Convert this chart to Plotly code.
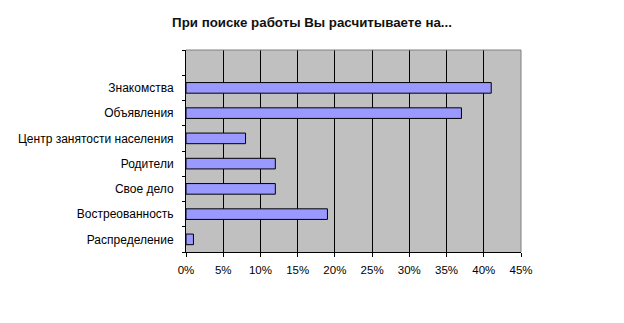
import plotly.graph_objects as go

categories = ["Распределение", "Востреованность", "Свое дело", "Родители",
              "Центр занятости населения", "Объявления", "Знакомства"]
values = [1, 19, 12, 12, 8, 37, 41]
x_ticks = [0, 5, 10, 15, 20, 25, 30, 35, 40, 45]
title_text = "При поиске работы Вы расчитываете на..."

font_family = "Liberation Sans, Arial, sans-serif"

fig = go.Figure(go.Bar(
    x=values, y=categories, orientation="h",
    marker=dict(color="#9999FF", line=dict(color="black", width=1)),
))

fig.update_layout(
    width=624, height=323,
    margin=dict(l=186, r=103, t=50, b=71),
    paper_bgcolor="white", plot_bgcolor="#C0C0C0",
    bargap=0.58, showlegend=False,
    font=dict(family=font_family, size=11, color="black"),
    title=dict(text="<b>" + title_text + "</b>", x=0.5, xanchor="center",
               y=1 - 22 / 323, yanchor="middle",
               font=dict(family=font_family, size=13.3, color="#111111")),
)
fig.update_xaxes(
    range=[0, 45], tickvals=x_ticks, ticktext=[f"{v}%" for v in x_ticks],
    showgrid=True, gridcolor="black", gridwidth=1,
    showline=True, linecolor="black", linewidth=1,
    ticks="outside", ticklen=4, tickcolor="black", zeroline=False,
    ticklabelstandoff=3, tickfont=dict(size=11.5),
)
fig.update_yaxes(
    type="category", categoryorder="array", categoryarray=categories + [" "],
    range=[-0.5, 7.5], tickson="boundaries",
    showgrid=False, showline=True, linecolor="black", linewidth=1,
    ticks="outside", ticklen=3, tickcolor="black",
    ticklabelstandoff=9, tickfont=dict(size=12),
)
fig.add_shape(type="line", xref="paper", yref="paper", x0=0, x1=1, y0=1, y1=1,
              line=dict(color="#808080", width=1), layer="above")
fig.add_shape(type="line", xref="paper", yref="paper", x0=1, x1=1, y0=0, y1=1,
              line=dict(color="#808080", width=1), layer="above")

fig.write_html("out.html")
